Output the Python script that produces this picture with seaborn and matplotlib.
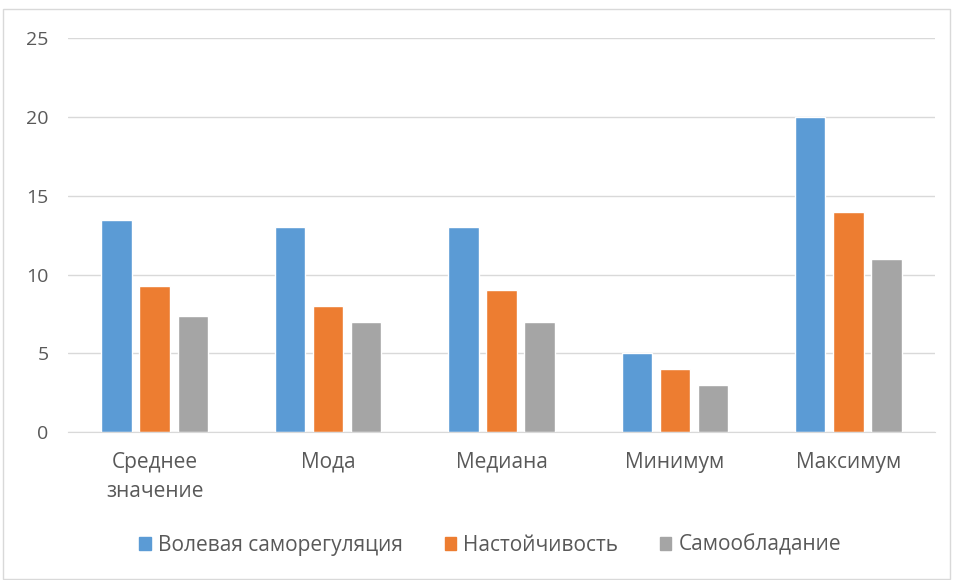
import numpy as np
import pandas as pd
import seaborn as sns
import matplotlib.patches as mpatches
from matplotlib import pyplot as plt

# данные с картинки
categories = ['Среднее\nзначение', 'Мода', 'Медиана', 'Минимум', 'Максимум']
series = ['Волевая саморегуляция', 'Настойчивость', 'Самообладание']
volevaya = [13.45, 13, 13, 5, 20]
nastoich = [9.25, 8, 9, 4, 14]
samoobl = [7.35, 7, 7, 3, 11]
colors = ['#5b9bd5', '#ed7d31', '#a5a5a5']

df = pd.DataFrame({
    'cat': categories * 3,
    'serie': [series[0]] * 5 + [series[1]] * 5 + [series[2]] * 5,
    'val': volevaya + nastoich + samoobl,
})

sns.set_style('white')
plt.rcParams['font.family'] = ['Open Sans', 'DejaVu Sans']

fig = plt.figure(figsize=(9.54, 5.8), dpi=100)
ax = fig.add_axes([0.0712, 0.255, 0.909, 0.679])

sns.barplot(data=df, x='cat', y='val', hue='serie', palette=colors,
            width=0.66, gap=0.2, saturation=1, legend=False, ax=ax)

ax.set_ylim(0, 25)
ax.set_yticks([0, 5, 10, 15, 20, 25])
ax.yaxis.grid(True, color='#d9d9d9', linewidth=1)
ax.set_axisbelow(True)
for s in ['top', 'right', 'left']:
    ax.spines[s].set_visible(False)
ax.spines['bottom'].set_color('#d9d9d9')
ax.tick_params(axis='both', length=0, colors='#595959')
ax.tick_params(axis='x', pad=14, labelsize=15)
ax.tick_params(axis='y', pad=14, labelsize=14)
for lab in ax.get_xticklabels():
    lab.set_linespacing(1.55)
ax.set_xlabel('')
ax.set_ylabel('')

handles = [mpatches.Patch(color=c, label=s) for c, s in zip(colors, series)]
leg = fig.legend(handles=handles, loc='center', bbox_to_anchor=(0.514, 0.06), ncol=3,
                 frameon=False, fontsize=15, handlelength=0.55, handleheight=0.55,
                 handletextpad=0.35, columnspacing=2.0)
for t in leg.get_texts():
    t.set_color('#595959')

# рамка диаграммы
fig.patches.append(mpatches.Rectangle((0.003, 0.002), 0.993, 0.983, transform=fig.transFigure,
                                      fill=False, edgecolor='#d9d9d9', linewidth=1))

fig.savefig('out.png', dpi=100)
